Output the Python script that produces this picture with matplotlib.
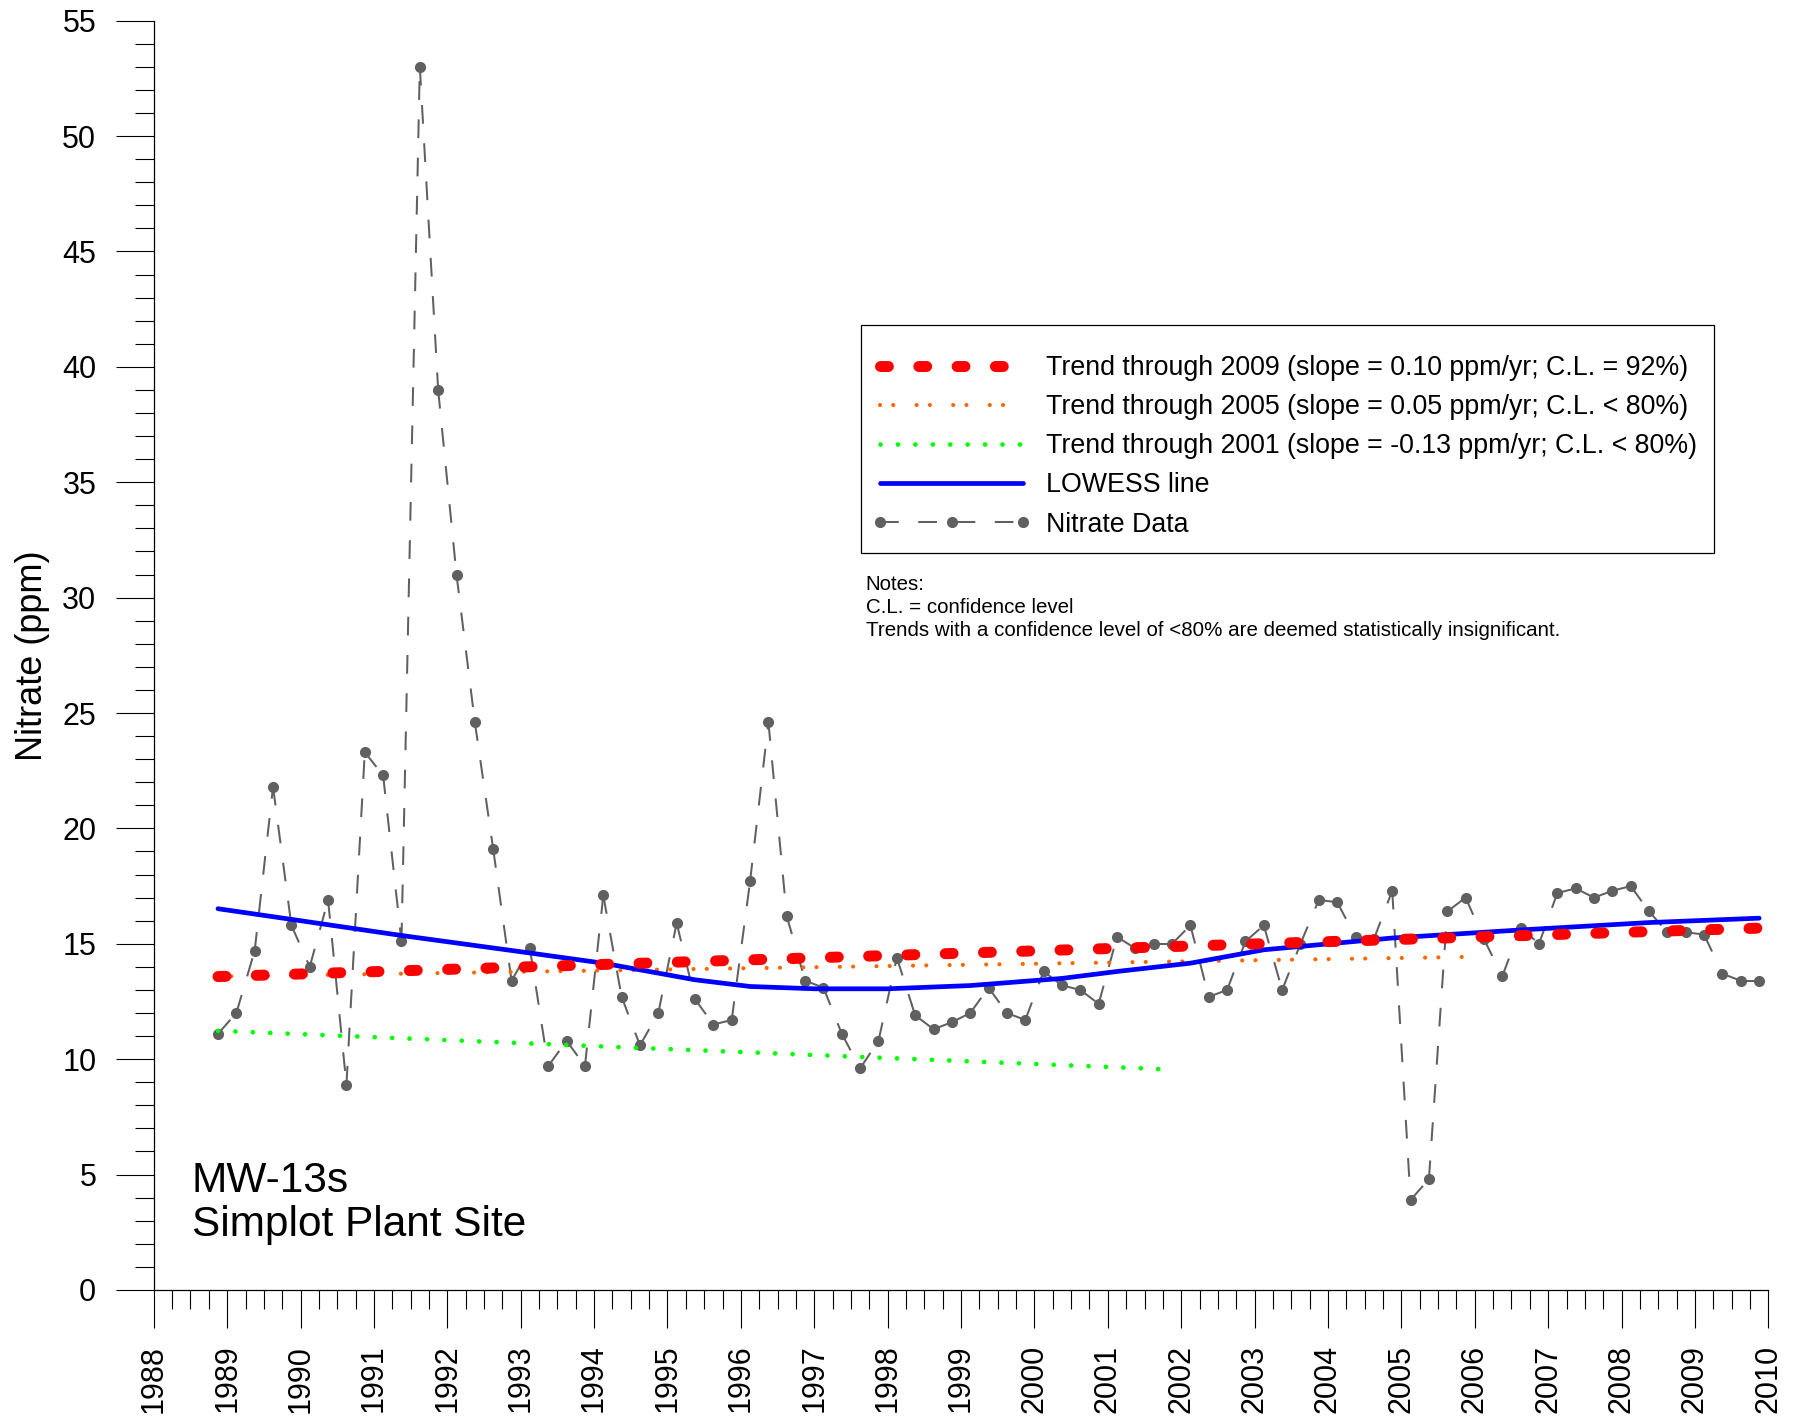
import numpy as np
import matplotlib
matplotlib.use("Agg")
import matplotlib.pyplot as plt
from matplotlib.collections import LineCollection
from matplotlib.lines import Line2D
from matplotlib.patches import Rectangle
from matplotlib.ticker import MultipleLocator

plt.rcParams['font.family'] = ['Liberation Sans', 'DejaVu Sans']

# quarterly sample dates (decimal year)
sample_years = [1988.875,
                1989.125, 1989.375, 1989.625, 1989.875,
                1990.125, 1990.375, 1990.625, 1990.875,
                1991.125, 1991.375, 1991.625, 1991.875,
                1992.125, 1992.375, 1992.625, 1992.875,
                1993.125, 1993.375, 1993.625, 1993.875,
                1994.125, 1994.375, 1994.625, 1994.875,
                1995.125, 1995.375, 1995.625, 1995.875,
                1996.125, 1996.375, 1996.625, 1996.875,
                1997.125, 1997.375, 1997.625, 1997.875,
                1998.125, 1998.375, 1998.625, 1998.875,
                1999.125, 1999.375, 1999.625, 1999.875,
                2000.125, 2000.375, 2000.625, 2000.875,
                2001.125, 2001.375, 2001.625, 2001.875,
                2002.125, 2002.375, 2002.625, 2002.875,
                2003.125, 2003.375, 2003.625, 2003.875,
                2004.125, 2004.375, 2004.625, 2004.875,
                2005.125, 2005.375, 2005.625, 2005.875,
                2006.125, 2006.375, 2006.625, 2006.875,
                2007.125, 2007.375, 2007.625, 2007.875,
                2008.125, 2008.375, 2008.625, 2008.875,
                2009.125, 2009.375, 2009.625, 2009.875]

# nitrate (ppm)
nitrate = [11.1,
           12.0, 14.7, 21.8, 15.8,
           14.0, 16.9, 8.9, 23.3,
           22.3, 15.1, 53.0, 39.0,
           31.0, 24.6, 19.1, 13.4,
           14.8, 9.7, 10.8, 9.7,
           17.1, 12.7, 10.6, 12.0,
           15.9, 12.6, 11.5, 11.7,
           17.7, 24.6, 16.2, 13.4,
           13.1, 11.1, 9.6, 10.8,
           14.4, 11.9, 11.3, 11.6,
           12.0, 13.1, 12.0, 11.7,
           13.8, 13.2, 13.0, 12.4,
           15.3, 14.8, 15.0, 15.0,
           15.8, 12.7, 13.0, 15.1,
           15.8, 13.0, 15.0, 16.9,
           16.8, 15.3, 15.2, 17.3,
           3.9, 4.8, 16.4, 17.0,
           15.2, 13.6, 15.7, 15.0,
           17.2, 17.4, 17.0, 17.3,
           17.5, 16.4, 15.5, 15.5,
           15.4, 13.7, 13.4, 13.4]

# LOWESS curve
lowess_years = [1988.875, 1990.0, 1991.375, 1992.875, 1994.125, 1995.375, 1996.125,
                1997.0, 1998.0, 1999.125, 2000.375, 2001.125, 2002.125, 2003.125,
                2004.875, 2006.625, 2008.375, 2009.875]
lowess_vals = [16.52, 16.0, 15.36, 14.71, 14.16, 13.44, 13.15,
               13.05, 13.05, 13.19, 13.5, 13.8, 14.16, 14.74,
               15.25, 15.6, 15.92, 16.11]

# trend lines (start/end)
trend_labels = ["Trend through 2009 (slope = 0.10 ppm/yr; C.L. = 92%)",
                "Trend through 2005 (slope = 0.05 ppm/yr; C.L. < 80%)",
                "Trend through 2001 (slope = -0.13 ppm/yr; C.L. < 80%)"]
trend_x0 = [1988.875, 1988.875, 1988.875]
trend_x1 = [2009.875, 2005.875, 2001.875]
trend_y0 = [13.58, 13.58, 11.23]
trend_y1 = [15.68, 14.43, 9.55]

GRAY = '#606060'

fig = plt.figure(figsize=(18.07, 14.26), dpi=100)
ax = fig.add_axes([0.0851, 0.0954, 0.8935, 0.8901])

# nitrate data: each segment dashed on its own, like the original plotting package
pts = np.column_stack([sample_years, nitrate])
segs = np.stack([pts[:-1], pts[1:]], axis=1)
lc = LineCollection(segs, colors=GRAY, linewidths=1.45, linestyles=[(0, (9.3, 9.7))], zorder=2)
ax.add_collection(lc)
ax.plot(sample_years, nitrate, 'o', ms=7, color=GRAY, zorder=2.5)

# trend lines
l_green, = ax.plot([trend_x0[2], trend_x1[2]], [trend_y0[2], trend_y1[2]], color='#00ff00',
                   lw=3.4, dashes=(0.01, 3.68), dash_capstyle='round', zorder=3)
l_orange, = ax.plot([trend_x0[1], trend_x1[1]], [trend_y0[1], trend_y1[1]], color='#ff6600',
                    lw=3.0, dashes=(0.01, 3.17, 0.01, 5.59), dash_capstyle='round', zorder=4)
l_blue, = ax.plot(lowess_years, lowess_vals, color='#0000ff', lw=3.4, zorder=5,
                  solid_capstyle='round')
l_red, = ax.plot([trend_x0[0], trend_x1[0]], [trend_y0[0], trend_y1[0]], color='#ff0000',
                 lw=7.9, dashes=(0.72, 2.77), dash_capstyle='round', zorder=6)

data_handle = Line2D([], [], color=GRAY, lw=1.45, dashes=(9.3, 9.7), marker='o', ms=7)

# legend box drawn separately so inner padding can differ per side
ax.add_patch(Rectangle((0.4380, 0.5805), 0.5281, 0.1798, transform=ax.transAxes,
                       facecolor='white', edgecolor='black', lw=0.9, zorder=7))
leg = ax.legend([l_red, l_orange, l_green, l_blue, data_handle],
                trend_labels + ["LOWESS line", "Nitrate Data"],
                loc='upper left', bbox_to_anchor=(0.4451, 0.7366), borderaxespad=0,
                fontsize=19.3, handlelength=5.93, handletextpad=0.56, labelspacing=0.49,
                borderpad=0, numpoints=3, frameon=False)
leg.set_zorder(8)

ax.text(0.441, 0.5633, "Notes:\nC.L. = confidence level\n"
        "Trends with a confidence level of <80% are deemed statistically insignificant.",
        transform=ax.transAxes, fontsize=14.8, va='top', ha='left', linespacing=1.27)

ax.text(1988.52, 4.26, "MW-13s", fontsize=30.5, va='baseline', ha='left')
ax.text(1988.52, 2.33, "Simplot Plant Site", fontsize=30.5, va='baseline', ha='left')

ax.set_xlim(1988, 2010)
ax.set_ylim(0, 55)
ax.spines['top'].set_visible(False)
ax.spines['right'].set_visible(False)
for s in ('left', 'bottom'):
    ax.spines[s].set_linewidth(0.9)

ax.set_xticks(range(1988, 2011))
ax.xaxis.set_minor_locator(MultipleLocator(0.25))
ax.yaxis.set_major_locator(MultipleLocator(5))
ax.yaxis.set_minor_locator(MultipleLocator(1))
ax.tick_params(axis='both', which='major', length=27.4, width=0.8, labelsize=22)
ax.tick_params(axis='both', which='minor', length=13.7, width=0.8)
ax.tick_params(axis='x', which='major', pad=12, labelrotation=90)
ax.tick_params(axis='y', which='major', pad=14)

ax.set_ylabel("Nitrate (ppm)", fontsize=26)
ax.yaxis.set_label_coords(-0.064, 0.5)

fig.savefig("out.png", dpi=100)
